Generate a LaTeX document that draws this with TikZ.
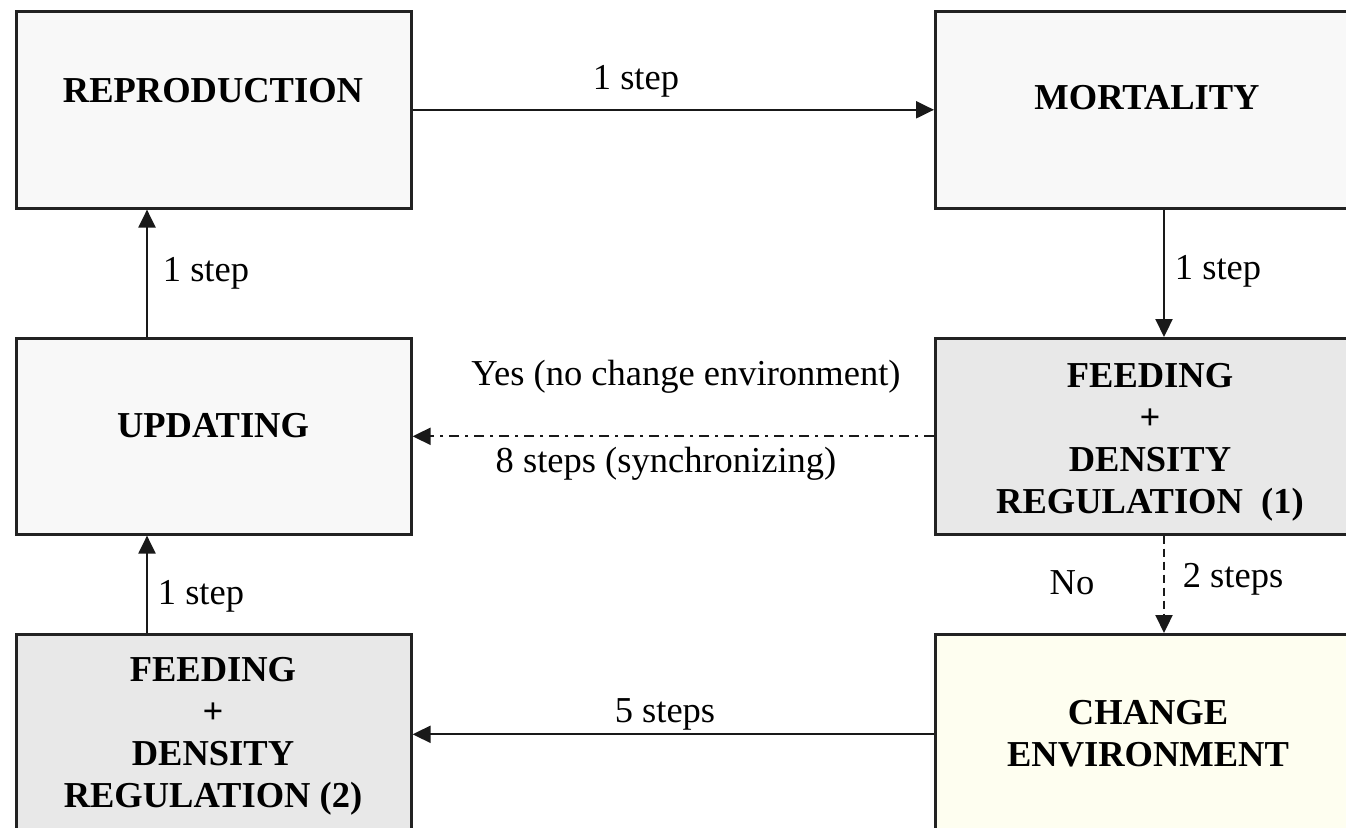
\documentclass[tikz,border=0pt]{standalone}
\usepackage{fontspec}
\setmainfont{Liberation Serif}
\usetikzlibrary{arrows.meta}
\definecolor{paleBox}{HTML}{F8F8F8}
\definecolor{greyBox}{HTML}{E8E8E8}
\definecolor{creamBox}{HTML}{FEFEF0}
\definecolor{edgeInk}{HTML}{222222}
\tikzset{
  stage/.style={draw=edgeInk, line width=2.6pt, inner sep=0pt, anchor=north west},
  boxtext/.style={font=\fontsize{36.5}{42}\selectfont\bfseries, align=center, inner sep=0pt},
  steplabel/.style={font=\fontsize{36.5}{42}\selectfont, inner sep=0pt},
  flow/.style={draw=black!90, line width=2.2pt, -{Triangle[length=18pt,width=17pt]}},
  syncline/.style={dash pattern=on 10pt off 6pt on 3pt off 6pt},
  branchline/.style={dash pattern=on 8pt off 5pt}
}
\begin{document}
\begin{tikzpicture}[x=1pt,y=-1pt]
  \useasboundingbox (0,0) rectangle (1346,827);
  \clip (0,0) rectangle (1346,827);
  \fill[white] (0,0) rectangle (1346,827);

  % stages of the simulation cycle
  \node[stage, fill=paleBox, minimum width=395pt, minimum height=197pt] (rep) at (15,10) {};
  \node[stage, fill=paleBox, minimum width=430pt, minimum height=197pt] (mor) at (934,10) {};
  \node[stage, fill=paleBox, minimum width=395pt, minimum height=196pt] (upd) at (15,337) {};
  \node[stage, fill=greyBox, minimum width=430pt, minimum height=196pt] (fdone) at (934,337) {};
  \node[stage, fill=greyBox, minimum width=395pt, minimum height=200pt] (fdtwo) at (15,633) {};
  \node[stage, fill=creamBox, minimum width=430pt, minimum height=200pt] (chg) at (934,633) {};

  % stage titles
  \node[boxtext] (reptxt) at (213,91) {REPRODUCTION};
  \node[boxtext] (mortxt) at (1147,98) {MORTALITY};
  \node[boxtext] (updtxt) at (213,426) {UPDATING};
  \node[boxtext] (fdonetxt) at (1150,442) {FEEDING\\+\\DENSITY\\REGULATION~~(1)};
  \node[boxtext] (fdtwotxt) at (213,736) {FEEDING\\+\\DENSITY\\REGULATION (2)};
  \node[boxtext] (chgtxt) at (1148,734) {CHANGE\\ENVIRONMENT};

  % columns of the vertical connectors
  \coordinate (lx) at (147,0);
  \coordinate (rx) at (1164,0);

  % connectors
  \draw[flow] (rep.east) -- (mor.west);
  \draw[flow] (mor.south -| rx) -- (fdone.north -| rx);
  \draw[flow, syncline] (fdone.west) -- (upd.east);
  \draw[flow, branchline] (fdone.south -| rx) -- (chg.north -| rx);
  \draw[flow] (chg.west) -- (fdtwo.east);
  \draw[flow] (fdtwo.north -| lx) -- (upd.south -| lx);
  \draw[flow] (upd.north -| lx) -- (rep.south -| lx);

  % connector labels
  \node[steplabel] (l1) at (636,81) {1 step};
  \node[steplabel] (l2) at (1218,271) {1 step};
  \node[steplabel] (l3) at (686,377) {Yes (no change environment)};
  \node[steplabel] (l4) at (666,464) {8 steps (synchronizing)};
  \node[steplabel] (l5) at (1072,583) {No};
  \node[steplabel] (l6) at (1233,579) {2 steps};
  \node[steplabel] (l7) at (665,714) {5 steps};
  \node[steplabel] (l8) at (201,596) {1 step};
  \node[steplabel] (l9) at (206,273) {1 step};
\end{tikzpicture}
\end{document}
